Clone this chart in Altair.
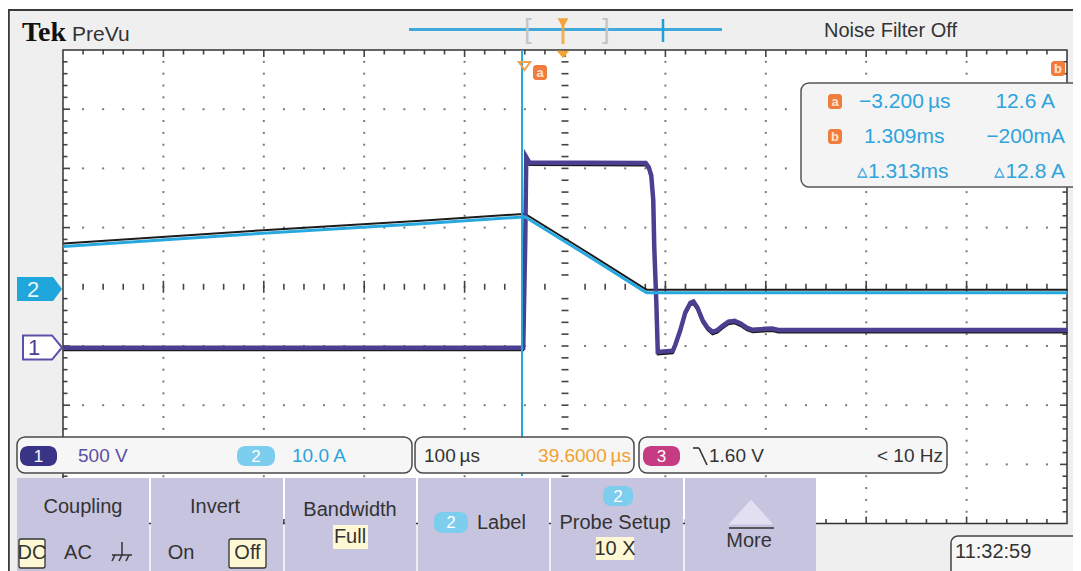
import altair as alt
import pandas as pd

# ---------------- scope settings / readouts shown on the screen ----------------
VOLTS_PER_DIV = 500      # ch1 scale
AMPS_PER_DIV = 10.0      # ch2 scale
US_PER_DIV = 100         # timebase
H_POSITION_US = 39.6     # screen centre relative to trigger
CH1_POS_DIV = -1.03      # ch1 ground marker position (div)
CH2_POS_DIV = 0.0        # ch2 ground marker position (div)
CURSOR_A_US = -3.2

# ---------------- waveforms ----------------
CH1_T = [-460, -2, 0, 1, 4, 120, 123, 125.5, 127.5, 128.5, 130.5, 132, 147, 149.5,
         154.5, 159.5, 164.5, 167.5, 171.5, 176.5, 181.5, 186.5, 191.5, 196.5, 202.5,
         208.5, 214.5, 220.5, 226.5, 240, 246, 252, 540]
CH1_V = [0, 0, 900, 1610, 1565, 1560, 1525, 1455, 1250, 850, 400, -35, -25, 25,
         150, 300, 380, 390, 340, 235, 170, 135, 150, 185, 220,
         228, 205, 170, 152, 160, 162, 150, 150]
CH2_T = [-460, -265, -100, -2, 0, 60, 117, 121, 540]
CH2_A = [6.8, 9.0, 10.7, 11.8, 11.8, 5.5, -0.6, -1.0, -1.0]

# ---------------- screen geometry ----------------
PX_PER_DIV_X = 100.4
PX_PER_DIV_Y = 59.2
CENTER_PX = (565, 286.8)
W, H = 1065, 563
FONT = "Liberation Sans, Arial, sans-serif"
US_PER_PX = US_PER_DIV / PX_PER_DIV_X
DIV_PER_PX = 1 / PX_PER_DIV_Y
TS = "\u2009"  # thin space


def px_x(px):
    return H_POSITION_US + (px - CENTER_PX[0]) / PX_PER_DIV_X * US_PER_DIV


def px_y(py):
    return (CENTER_PX[1] - py) / PX_PER_DIV_Y


XS = alt.Scale(domain=[px_x(8), px_x(8 + W)], nice=False, zero=False)
YS = alt.Scale(domain=[px_y(8 + H), px_y(8)], nice=False, zero=False)


def chart(df, mark, **kw):
    c = getattr(alt.Chart(df), mark)(**kw)
    enc = dict(x=alt.X("x:Q", scale=XS, axis=None), y=alt.Y("y:Q", scale=YS, axis=None))
    if "x2" in df:
        enc["x2"] = "x2:Q"
    if "y2" in df:
        enc["y2"] = "y2:Q"
    if "t" in df:
        enc["text"] = "t:N"
    return c.encode(**enc)


def boxes(items):
    return pd.DataFrame([{"x": px_x(a), "x2": px_x(b), "y": px_y(c), "y2": px_y(d)} for a, b, c, d in items])


def segs(items):
    return pd.DataFrame([{"x": px_x(a), "y": px_y(b), "x2": px_x(c), "y2": px_y(d)} for a, b, c, d in items])


def pts(items):
    return pd.DataFrame([{"x": px_x(a), "y": px_y(b)} for a, b in items])


def txt(items):
    return pd.DataFrame([{"x": px_x(a), "y": px_y(b), "t": s} for a, b, s in items])


def text_layer(items, size=20, align="center", color="#333", **kw):
    return chart(txt(items), "mark_text", font=FONT, fontSize=size, align=align, baseline="middle",
                 color=color, **kw)


L = []
# screen background
L.append(chart(boxes([(8, 1100, 10, 600)]), "mark_rect", color="#efefef"))

# ---------------- graticule ----------------
t_left = H_POSITION_US - 5 * US_PER_DIV
t_right = H_POSITION_US + 5 * US_PER_DIV
majors = [t_left + k * US_PER_DIV for k in range(11)]
L.append(chart(pd.DataFrame({"x": [t_left], "x2": [t_right], "y": [-4], "y2": [4]}), "mark_rect", color="white"))

dots = []
for k in range(1, 10):
    if k == 5:
        continue
    for j in range(1, 40):
        dots.append({"x": majors[k], "y": -4 + 0.2 * j})
for r in (-3, -2, -1, 1, 2, 3):
    for j in range(1, 50):
        if j % 5 == 0:
            continue
        dots.append({"x": t_left + 20 * j, "y": r})
L.append(chart(pd.DataFrame(dots), "mark_square", size=4, color="#7a7a7a", opacity=1))

ticks = []
tc = H_POSITION_US
for j in range(1, 40):
    if j == 20:
        continue
    y = -4 + 0.2 * j
    ticks.append({"x": tc - 3.5 * US_PER_PX, "x2": tc + 3.5 * US_PER_PX, "y": y, "y2": y})
    ln = (7 if j % 5 == 0 else 4.5) * US_PER_PX
    ticks.append({"x": t_left, "x2": t_left + ln, "y": y, "y2": y})
    ticks.append({"x": t_right - ln, "x2": t_right, "y": y, "y2": y})
for j in range(1, 50):
    x = t_left + 20 * j
    if j != 25:
        h = (6 if j % 5 == 0 else 3) * DIV_PER_PX
        ticks.append({"x": x, "x2": x, "y": -h, "y2": h})
    ln = (7 if j % 5 == 0 else 4.5) * DIV_PER_PX
    ticks.append({"x": x, "x2": x, "y": 4, "y2": 4 - ln})
    ticks.append({"x": x, "x2": x, "y": -4, "y2": -4 + ln})
L.append(chart(pd.DataFrame(ticks), "mark_rule", color="#444", strokeWidth=1.6))
L.append(chart(pd.DataFrame({"x": [t_left], "x2": [t_right], "y": [-4], "y2": [4]}), "mark_rect",
               fillOpacity=0, stroke="#333", strokeWidth=1.5))

# ---------------- traces ----------------
ch1 = pd.DataFrame({"x": CH1_T, "y": [v / VOLTS_PER_DIV + CH1_POS_DIV for v in CH1_V]})
ch2 = pd.DataFrame({"x": CH2_T, "y": [a / AMPS_PER_DIV + CH2_POS_DIV for a in CH2_A]})
L.append(chart(ch2, "mark_line", color="#1c1c1c", strokeWidth=2, yOffset=-3))
L.append(chart(ch1, "mark_line", color="#1c1c1c", strokeWidth=2, yOffset=2.5))
L.append(chart(ch1, "mark_line", color="#4b3f91", strokeWidth=4.5))
L.append(chart(ch2, "mark_line", color="#27a9df", strokeWidth=3))

# cursor a
L.append(chart(pd.DataFrame({"x": [CURSOR_A_US], "x2": [CURSOR_A_US], "y": [4], "y2": [px_y(476)]}),
               "mark_rule", color="#25a7dc", strokeWidth=2))

# frame lines
L.append(chart(segs([(8, 10, 1100, 10), (8.8, 10, 8.8, 600)]), "mark_rule", color="#3a3a3a", strokeWidth=2))

# ---------------- header ----------------
L.append(chart(txt([(22, 41, "Tek")]), "mark_text", font="Liberation Serif", fontSize=28, fontWeight="bold",
               align="left", baseline="alphabetic", color="#111"))
L.append(chart(txt([(72, 41, "PreVu")]), "mark_text", font=FONT, fontSize=21, align="left",
               baseline="alphabetic", color="#333"))
L.append(text_layer([(824, 31, "Noise Filter Off")], size=20, align="left"))
L.append(chart(segs([(409, 29.5, 722, 29.5)]), "mark_rule", color="#3fa9dc", strokeWidth=3))
L.append(chart(segs([(663, 19, 663, 42)]), "mark_rule", color="#1e9fd6", strokeWidth=2.5))
L.append(text_layer([(528, 30, "["), (606, 30, "]")], size=28, color="#c4c4c4"))
L.append(chart(segs([(563, 24, 563, 44)]), "mark_rule", color="#f3a33b", strokeWidth=3, opacity=0.85))
L.append(chart(pts([(563, 23)]), "mark_point", shape="triangle-down", size=120, filled=True,
               color="#f3a33b", opacity=1))
L.append(chart(pts([(563, 54.5)]), "mark_point", shape="M-1,-0.6L1,-0.6L0,0.6Z", size=160, filled=True,
               color="#f5a530", opacity=1))
L.append(chart(pts([(524.5, 66)]), "mark_point", shape="M-1,-0.7L1,-0.7L0,0.7Z", size=130, filled=False,
               color="#f3a24a", strokeWidth=2, opacity=1))

# ---------------- channel ground markers ----------------
L.append(chart(pts([(39.5, 289)]), "mark_point", shape="M-1,-0.533L0.6,-0.533L1,0L0.6,0.533L-1,0.533Z",
               size=2025, filled=True, color="#1fa6da", opacity=1))
L.append(text_layer([(33, 289.5, "2")], size=22, color="#e8f7ff"))
L.append(chart(pts([(42.5, 347.5)]), "mark_point", shape="M-1,-0.62L0.49,-0.62L1,0L0.49,0.62L-1,0.62Z",
               size=1521, filled=True, fill="white", stroke="#5a50a8", strokeWidth=2, opacity=1))
L.append(text_layer([(34, 348, "1")], size=22, color="#4a3f99"))

# ---------------- cursor readout box ----------------
L.append(chart(boxes([(801, 1090, 83, 187)]), "mark_rect", fill="#f4f4f4", stroke="#555", strokeWidth=1.5,
               cornerRadius=8))
L.append(text_layer([(859, 102, "\u22123.200" + TS + "\u00b5s"), (864, 137, "1.309ms"),
                     (857, 172, "\u25b51.313ms")], size=21, align="left", color="#2ea3dc"))
L.append(text_layer([(1055, 102, "12.6 A"), (1065, 137, "\u2212200mA"), (1065, 172, "\u25b512.8 A")],
                    size=21, align="right", color="#2ea3dc"))

# orange cursor badges
badge_boxes = [(533, 547, 65, 80), (1051, 1065, 61, 76), (828, 842, 94, 109), (828, 842, 129, 144)]
L.append(chart(boxes(badge_boxes), "mark_rect", color="#f07d3e", cornerRadius=3))
L.append(text_layer([(540, 73, "a"), (1058, 69, "b"), (835, 102, "a"), (835, 137, "b")], size=13,
                    color="#ffe3cf", fontWeight="bold"))

# ---------------- status bar ----------------
L.append(chart(boxes([(17, 412, 437, 473), (415, 634, 437, 473), (639, 947, 437, 473)]), "mark_rect",
               fill="#f6f6f6", stroke="#4a4a4a", strokeWidth=1.5, cornerRadius=8))

# ---------------- menu panels ----------------
L.append(chart(boxes([(17, 149, 478, 600), (151, 283, 478, 600), (285, 416, 478, 600),
                      (418, 549, 478, 600), (551, 683, 478, 600), (685, 816, 478, 600)]),
               "mark_rect", color="#c7c4e0"))

# channel badges
L.append(chart(boxes([(20, 57, 446, 466)]), "mark_rect", color="#3a3487", cornerRadius=8))
L.append(chart(boxes([(237, 275, 446, 466), (434, 468, 512, 533), (603, 633, 486, 506)]), "mark_rect",
               color="#7ccdee", cornerRadius=8))
L.append(chart(boxes([(643, 680, 446, 466)]), "mark_rect", color="#c53c83", cornerRadius=8))
L.append(text_layer([(38.5, 456.5, "1"), (256, 456.5, "2"), (661.5, 456.5, "3"), (451, 523, "2"),
                     (618, 496.5, "2")], size=17, color="white"))

# status texts
L.append(text_layer([(78, 456, "500 V")], size=19, align="left", color="#5b4fa3"))
L.append(text_layer([(292, 456, "10.0 A")], size=19, align="left", color="#2aa3dc"))
L.append(text_layer([(424, 456, "100" + TS + "\u00b5s"), (709, 456, "1.60 V")], size=19, align="left"))
L.append(text_layer([(943, 456, "< 10 Hz")], size=19, align="right"))
L.append(text_layer([(631, 456, "39.6000" + TS + "\u00b5s")], size=19, align="right", color="#f0a030"))
L.append(chart(segs([(693, 448, 699, 448), (699, 448, 707, 465)]), "mark_rule", color="#333", strokeWidth=1.6))

# panel contents
L.append(chart(boxes([(19, 45, 539, 568), (229, 266, 539, 568)]), "mark_rect", fill="#fff8d4", stroke="#333",
               strokeWidth=1.3, cornerRadius=2))
L.append(chart(boxes([(333, 368, 525, 549), (596, 634, 537, 560)]), "mark_rect", color="#fff8d4"))
L.append(text_layer([(83, 507, "Coupling"), (215, 507, "Invert"), (350, 510, "Bandwidth"), (350, 537, "Full"),
                     (32, 553, "DC"), (78, 553, "AC"), (181, 553, "On"), (247.5, 553, "Off"),
                     (615, 523, "Probe Setup"), (615, 549, "10 X"), (749, 541, "More")], size=20))
L.append(text_layer([(477, 523, "Label")], size=20, align="left"))
L.append(chart(segs([(122, 542, 122, 555), (112, 555, 132, 555), (115, 555, 112, 561),
                     (122, 555, 119, 561), (129, 555, 126, 561), (729, 528, 774, 528)]),
               "mark_rule", color="#333", strokeWidth=1.5))
L.append(chart(pts([(751, 512)]), "mark_point", shape="M-1,0.55L0,-0.55L1,0.55Z", size=2025, filled=True,
               color="#e2e0f0", opacity=1))

# ---------------- time stamp ----------------
L.append(chart(boxes([(951, 1100, 536, 580)]), "mark_rect", fill="#f7f7f7", stroke="#444", strokeWidth=1.5,
               cornerRadius=7))
L.append(text_layer([(955, 552, "11:32:59")], size=20, align="left"))

final = alt.layer(*L).properties(
    width=W, height=H, padding=0, autosize=alt.AutoSizeParams(type="none"), background="white"
).configure_view(stroke=None)

final.save("out.html", embed_options={"renderer": "svg", "actions": False})
